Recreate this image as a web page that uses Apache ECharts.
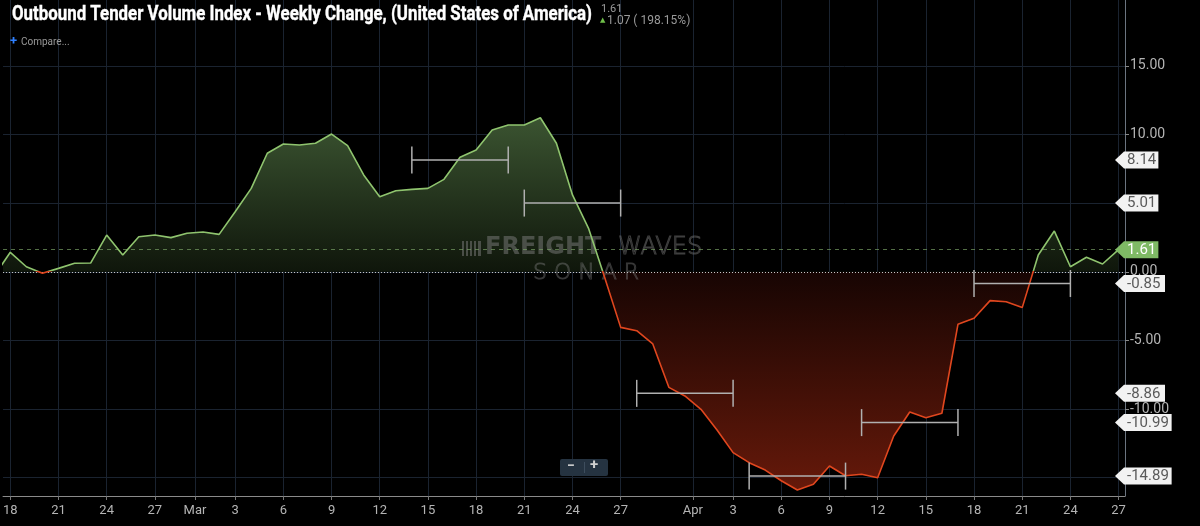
<!DOCTYPE html>
<html><head><meta charset="utf-8">
<script src="https://cdn.jsdelivr.net/npm/echarts@6/dist/echarts.min.js"></script>
<style>html,body{margin:0;padding:0;background:#000;}#c{width:1200px;height:526px;}</style>
</head><body><div id="c"></div>
<script>
// daily dates (2020)
const days = ['02-17','02-18','02-19','02-20','02-21','02-22','02-23','02-24','02-25','02-26','02-27','02-28','02-29',
'03-01','03-02','03-03','03-04','03-05','03-06','03-07','03-08','03-09','03-10','03-11','03-12','03-13','03-14','03-15','03-16','03-17','03-18','03-19','03-20','03-21','03-22','03-23','03-24','03-25','03-26','03-27','03-28','03-29','03-30','03-31',
'04-01','04-02','04-03','04-04','04-05','04-06','04-07','04-08','04-09','04-10','04-11','04-12','04-13','04-14','04-15','04-16','04-17','04-18','04-19','04-20','04-21','04-22','04-23','04-24','04-25','04-26','04-27'];
// weekly change values
const values = [-0.30,1.42,0.37,-0.11,0.25,0.62,0.64,2.68,1.22,2.56,2.68,2.49,2.81,
2.90,2.73,4.38,6.08,8.64,9.31,9.24,9.37,10.04,9.19,7.06,5.47,5.91,6.01,6.08,6.74,8.35,8.88,10.34,10.70,10.70,11.23,9.37,5.60,3.17,-0.40,-4.05,-4.29,-5.26,-8.42,-9.05,
-10.02,-11.53,-13.18,-13.91,-14.45,-15.23,-15.90,-15.49,-14.15,-14.86,-14.76,-15.01,-11.97,-10.22,-10.63,-10.31,-3.83,-3.39,-2.10,-2.18,-2.61,1.22,2.97,0.37,1.06,0.57,1.61];
// weekly averages (bars)
const weekStart = ['03-14','03-21','03-28','04-04','04-11','04-18'];
const weekEnd   = ['03-20','03-27','04-03','04-10','04-17','04-24'];
const weekAvg   = [8.14,5.01,-8.86,-14.89,-10.99,-0.85];
// x tick positions (day index; month marks fall half a day earlier) and labels
const tickPos  = [1,4,7,10,12.5,15,18,21,24,27,30,33,36,39,43.5,46,49,52,55,58,61,64,67,70];
const tickText = ['18','21','24','27','Mar','3','6','9','12','15','18','21','24','27','Apr','3','6','9','12','15','18','21','24','27'];
const yTicks = [-15,-10,-5,0,5,10,15];
const yLabels = [-10,-5,0,5,10,15];
const xRange = [0.547, 70.4];
const yRange = [-16.34, 19.81];
const current = values[values.length-1];
const titleText = 'Outbound Tender Volume Index - Weekly Change, (United States of America)';

const vmax = Math.max(...values), vmin = Math.min(...values);
const zf = vmax/(vmax - vmin);

const chart = echarts.init(document.getElementById('c'));
const font = 'Roboto, "Noto Sans", sans-serif';

// condense title to the reference width
const titleFont = 'bold 21px Roboto';
const mctx = document.createElement('canvas').getContext('2d');
mctx.font = titleFont;
const titleScale = 580 / mctx.measureText(titleText).width;

const tagData = weekAvg.map(v => [xRange[1], v, 0]).concat([[xRange[1], current, 1]]);
const G = echarts.graphic.LinearGradient;
const lineData = values.map((v, i) => [i, v]);
const wm = 'rgba(125,125,125,0.5)';

chart.setOption({
  backgroundColor: '#000',
  animation: false,
  grid: {left: 0, top: 0, right: 75, bottom: 30, containLabel: false},
  xAxis: {
    type: 'value', min: xRange[0], max: xRange[1],
    axisLine: {onZero: false, lineStyle: {color: '#8a8a8a', width: 1}},
    axisTick: {customValues: tickPos, length: 4, lineStyle: {color: '#777'}},
    axisLabel: {customValues: tickPos, formatter: v => tickText[tickPos.indexOf(v)], color: '#b4b4b4', fontSize: 13, fontFamily: font, margin: 8},
    splitLine: {show: true, lineStyle: {color: '#1a2330', width: 1}}
  },
  yAxis: {
    type: 'value', position: 'right', min: yRange[0], max: yRange[1],
    axisLine: {show: true, onZero: false, lineStyle: {color: '#6c7580'}},
    axisTick: {show: true, customValues: yTicks, length: 4, lineStyle: {color: '#888'}},
    axisLabel: {customValues: yLabels, formatter: v => v.toFixed(2), color: '#b4b4b4', fontSize: 14, fontFamily: font, margin: 5},
    splitLine: {show: true, lineStyle: {color: '#1a2330', width: 1}}
  },
  series: [
    {
      type: 'line', data: lineData, showSymbol: false, symbol: 'none',
      lineStyle: {width: 0},
      areaStyle: {
        opacity: 1,
        color: new G(0, 0, 0, 1, [
          {offset: 0, color: '#3b5431'},
          {offset: zf, color: '#0f160b'},
          {offset: zf, color: '#170503'},
          {offset: 1, color: '#66190a'}
        ])
      },
      markLine: {
        silent: true, symbol: 'none', label: {show: false},
        data: [
          {yAxis: current, lineStyle: {color: 'rgba(120,160,100,0.7)', type: [4, 4], width: 1}},
          {yAxis: 0, lineStyle: {color: '#c8c8c8', type: [1, 2], width: 1}}
        ]
      },
      z: 2
    },
    {
      type: 'line', data: lineData, showSymbol: false, symbol: 'none',
      lineStyle: {width: 1.6, color: new G(0, 0, 0, 1, [
        {offset: 0, color: '#8fc46e'}, {offset: zf, color: '#8fc46e'},
        {offset: zf, color: '#e0461e'}, {offset: 1, color: '#e0461e'}])},
      z: 5
    },
    {
      type: 'custom', clip: false, z: 6,
      data: weekAvg.map((v, i) => [days.indexOf(weekStart[i]), days.indexOf(weekEnd[i]), v]),
      encode: {x: [0, 1], y: 2},
      renderItem: function (params, api) {
        const a = api.coord([api.value(0), api.value(2)]);
        const b = api.coord([api.value(1), api.value(2)]);
        const h = 13.5;
        const st = {stroke: '#b0b0b0', lineWidth: 1.5};
        return {type: 'group', children: [
          {type: 'line', shape: {x1: a[0], y1: a[1], x2: b[0], y2: b[1]}, style: st},
          {type: 'line', shape: {x1: a[0], y1: a[1] - h, x2: a[0], y2: a[1] + h}, style: st},
          {type: 'line', shape: {x1: b[0], y1: b[1] - h, x2: b[0], y2: b[1] + h}, style: st}
        ]};
      }
    },
    {
      type: 'custom', clip: false, z: 10,
      data: tagData,
      encode: {x: 0, y: 1},
      renderItem: function (params, api) {
        const v = api.value(1);
        const cur = api.value(2) === 1;
        const p = api.coord([api.value(0), v]);
        const txt = v.toFixed(2);
        const x = p[0], y = p[1];
        const w = 7 + txt.length * 6.6;
        const hh = 8.5;
        return {type: 'group', children: [
          {type: 'polygon', shape: {points: [[x - 10, y], [x - 1, y - hh], [x + w, y - hh], [x + w, y + hh], [x - 1, y + hh]]},
           style: {fill: cur ? '#7fba65' : '#f2f2f2'}},
          {type: 'text', style: {x: x + 2, y: y + 0.5, text: txt, fill: cur ? '#ffffff' : '#5a5a5a', font: '15px Roboto', align: 'left', verticalAlign: 'middle'}}
        ]};
      }
    }
  ],
  graphic: [
    {type: 'text', x: 12, y: 4, scaleX: titleScale, z: 20, style: {text: titleText, fill: '#ffffff', stroke: '#ffffff', lineWidth: 0.4, font: titleFont}},
    {type: 'text', x: 601, y: 4, z: 20, style: {text: '1.61', fill: '#9a9a9a', font: '11px Roboto'}},
    {type: 'text', x: 600, y: 17, z: 20, style: {text: '▲', fill: '#6fbf4a', font: '7px "DejaVu Sans"'}},
    {type: 'text', x: 607, y: 15, z: 20, style: {text: '1.07 ( 198.15%)', fill: '#9a9a9a', font: '12px Roboto'}},
    {type: 'text', x: 10, y: 35, z: 20, style: {text: '+', fill: '#2f80ff', font: 'bold 13px Roboto'}},
    {type: 'text', x: 21, y: 37, z: 20, style: {text: 'Compare...', fill: '#9a9a9a', font: '10px Roboto'}},
    // watermark
    {type: 'rect', x: 462, y: 241, z: 3, silent: true, shape: {width: 2, height: 15}, style: {fill: wm}},
    {type: 'rect', x: 466, y: 241, z: 3, silent: true, shape: {width: 2, height: 15}, style: {fill: wm}},
    {type: 'rect', x: 470, y: 241, z: 3, silent: true, shape: {width: 2, height: 15}, style: {fill: wm}},
    {type: 'rect', x: 474, y: 241, z: 3, silent: true, shape: {width: 2, height: 15}, style: {fill: wm}},
    {type: 'rect', x: 478, y: 241, z: 3, silent: true, shape: {width: 3, height: 15}, style: {fill: wm}},
    {type: 'text', x: 485, y: 236, z: 3, silent: true, style: {text: 'FREIGHT', fill: wm, font: '900 24px "DejaVu Sans"'}},
    {type: 'text', x: 618, y: 236, z: 3, silent: true, style: {text: 'WAVES', fill: 'rgba(0,0,0,0)', stroke: wm, lineWidth: 1, font: '300 24px "DejaVu Sans"'}},
    {type: 'text', x: 533, y: 262, z: 3, silent: true, style: {text: 'S O N A R', fill: 'rgba(0,0,0,0)', stroke: 'rgba(125,125,125,0.45)', lineWidth: 1, font: '300 22px "DejaVu Sans"'}},
    // zoom buttons
    {type: 'rect', x: 560, y: 459, z: 20, shape: {width: 48, height: 17, r: 2}, style: {fill: '#253341'}},
    {type: 'rect', x: 584, y: 462, z: 21, shape: {width: 1, height: 11}, style: {fill: '#3d4d5d'}},
    {type: 'text', x: 567, y: 459, z: 21, style: {text: '−', fill: '#d0d0d0', font: 'bold 14px Roboto'}},
    {type: 'text', x: 590, y: 458, z: 21, style: {text: '+', fill: '#d0d0d0', font: 'bold 15px Roboto'}}
  ]
});
</script>
</body></html>
